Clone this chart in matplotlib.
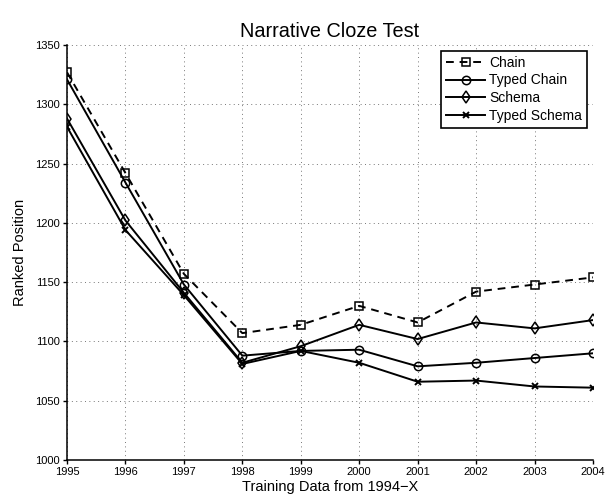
import matplotlib
matplotlib.use("Agg")
import matplotlib.pyplot as plt

plt.rcParams['font.family'] = ['Liberation Sans', 'DejaVu Sans']

years = [1995, 1996, 1997, 1998, 1999, 2000, 2001, 2002, 2003, 2004]
chain = [1327, 1242, 1157, 1107, 1114, 1130, 1116, 1142, 1148, 1154]
typed_chain = [1321, 1234, 1148, 1088, 1092, 1093, 1079, 1082, 1086, 1090]
schema = [1288, 1202, 1141, 1082, 1096, 1114, 1102, 1116, 1111, 1118]
typed_schema = [1281, 1194, 1139, 1081, 1092, 1082, 1066, 1067, 1062, 1061]
yticks = [1000, 1050, 1100, 1150, 1200, 1250, 1300, 1350]

fig = plt.figure(figsize=(6.07, 4.99), dpi=100)
ax = fig.add_axes([67/607, 1 - 460/499, (593-67)/607, (460-45)/499])

kw = dict(color='black', lw=1.4, markerfacecolor='none', markeredgecolor='black', markersize=6, markeredgewidth=1.1)
ax.plot(years, chain, ls=(0, (4, 3)), marker='s', label='Chain', **kw)
ax.plot(years, typed_chain, ls='-', marker='o', label='Typed Chain', **kw)
ax.plot(years, schema, ls='-', marker='d', label='Schema', **kw)
ax.plot(years, typed_schema, ls='-', marker='x', label='Typed Schema',
        color='black', lw=1.4, markersize=4, markeredgewidth=1.4)

ax.set_xlim(1995, 2004)
ax.set_ylim(1000, 1350)
ax.set_xticks(years)
ax.set_yticks(yticks)
ax.tick_params(direction='out', labelsize=8, length=3, width=1, pad=2)
ax.grid(True, ls=(0, (1, 3.5)), color='#777777', lw=0.7)
ax.spines['top'].set_visible(False)
ax.spines['right'].set_visible(False)
ax.spines['left'].set_linewidth(1.1)
ax.spines['bottom'].set_linewidth(1.1)

ax.set_title('Narrative Cloze Test', fontsize=14.3, pad=6)
ax.set_xlabel('Training Data from 1994\u2212X', fontsize=10.5, labelpad=2)
ax.set_ylabel('Ranked Position', fontsize=10.5, labelpad=6)

leg = ax.legend(loc='upper right', bbox_to_anchor=(587/607, 1 - 51/499),
                bbox_transform=fig.transFigure,
                fontsize=10, frameon=True, fancybox=False,
                edgecolor='black', framealpha=1, borderpad=0.35, labelspacing=0.26,
                handlelength=2.8, handletextpad=0.3, borderaxespad=0.0)
leg.get_frame().set_linewidth(1.2)

fig.savefig('out.png', dpi=100)
